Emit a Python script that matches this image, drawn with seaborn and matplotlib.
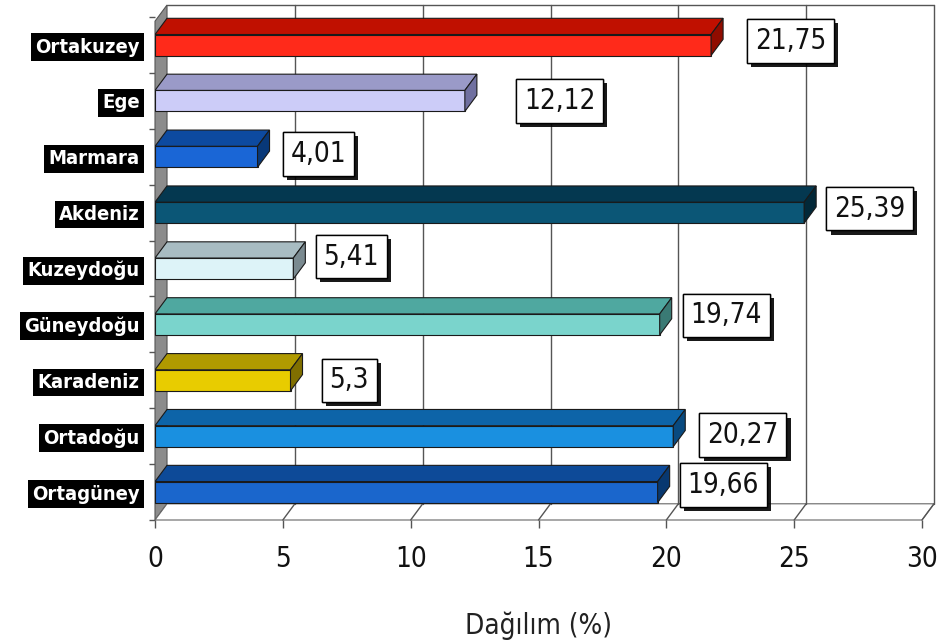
import matplotlib
matplotlib.use("Agg")
import matplotlib.pyplot as plt
import matplotlib.patheffects as pe
from matplotlib.patches import Polygon, Rectangle
from matplotlib import font_manager
import seaborn as sns
import numpy as np

# data
regions = ['Ortakuzey', 'Ege', 'Marmara', 'Akdeniz', 'Kuzeydoğu',
           'Güneydoğu', 'Karadeniz', 'Ortadoğu', 'Ortagüney']
values = [21.75, 12.12, 4.01, 25.39, 5.41, 19.74, 5.3, 20.27, 19.66]
value_labels = ['21,75', '12,12', '4,01', '25,39', '5,41', '19,74', '5,3', '20,27', '19,66']
xticks = [0, 5, 10, 15, 20, 25, 30]

# styling
front_colors = ['#ff2a1a', '#ccccf8', '#1a66d6', '#0b5676', '#ddf3f8',
                '#7ad4cc', '#e8cc00', '#1a90e0', '#1a66cc']
top_colors = ['#c01000', '#9a9ac8', '#0d4aa0', '#043850', '#a8bcc2',
              '#4fa8a0', '#b09a00', '#0d64a8', '#0d4a98']
side_colors = ['#900c00', '#7070a0', '#083878', '#022838', '#7a8a90',
               '#3a7a74', '#806f00', '#084a80', '#083870']
# pixel offsets of the value boxes (gap after bar end, vertical shift)
label_dx = [36, 51, 25, 22, 22, 23, 31, 26, 22]
label_dy = [4, 0, 3, 4, 12, 9, 0, 1, 7]

sns.set_style("white")
names = {f.name for f in font_manager.fontManager.ttflist}
narrow = [n for n in ['Liberation Sans Narrow', 'DejaVu Sans Condensed'] if n in names]
plt.rcParams['font.family'] = narrow + ['DejaVu Sans']
plt.rcParams['font.stretch'] = 'condensed'

W, H = 939, 644
fig = plt.figure(figsize=(W / 100, H / 100), dpi=100)
ax = fig.add_axes([155 / W, 1 - 520 / H, (922 - 155) / W, (520 - 5) / H])

sns.barplot(x=values, y=regions, hue=regions, palette=front_colors,
            saturation=1, orient='h', width=0.376, edgecolor='#1a1a1a',
            linewidth=0.8, legend=False, ax=ax, zorder=3)

ytop = -0.716
ybot = 8.5
ax.set_xlim(0, 30)
ax.set_ylim(ybot, ytop)

dx = 0.47   # depth in x units
dy = 0.29   # depth in row units

# left wall
ax.add_patch(Polygon([(0, ybot), (dx, ybot - dy), (dx, ytop), (0, ytop + dy)],
                     closed=True, fc='#8c8c8c', ec='#555555', lw=0.8,
                     zorder=1, clip_on=False))
# floor
ax.add_patch(Polygon([(0, ybot), (30, ybot), (30 + dx, ybot - dy), (dx, ybot - dy)],
                     closed=True, fc='white', ec='#666666', lw=0.8,
                     zorder=1, clip_on=False))
# back wall gridlines + floor slants
for v in xticks[1:]:
    ax.plot([v + dx, v + dx], [ytop, ybot - dy], color='#555555', lw=1,
            zorder=1, clip_on=False)
    ax.plot([v, v + dx], [ybot, ybot - dy], color='#555555', lw=1,
            zorder=1, clip_on=False)
ax.plot([dx, 30 + dx], [ytop, ytop], color='#555555', lw=1, zorder=1, clip_on=False)

# 3d faces of the bars
bars = [p for p in ax.patches if isinstance(p, Rectangle) and p.get_height() < 0.5]
for p in bars:
    y = p.get_y()
    h = p.get_height()
    w = p.get_width()
    i = int(round(y + h / 2))
    if w == 0 or i < 0 or i >= len(regions):
        continue
    ax.add_patch(Polygon([(0, y), (w, y), (w + dx, y - dy), (dx, y - dy)],
                         closed=True, fc=top_colors[i], ec='#1a1a1a', lw=0.8, zorder=3))
    ax.add_patch(Polygon([(w, y), (w + dx, y - dy), (w + dx, y + h - dy), (w, y + h)],
                         closed=True, fc=side_colors[i], ec='#1a1a1a', lw=0.8, zorder=3))

# value boxes
for i, (v, t) in enumerate(zip(values, value_labels)):
    txt = ax.annotate(t, xy=(v, i), xytext=(label_dx[i] + 8, label_dy[i]),
                      textcoords='offset pixels', ha='left', va='center',
                      fontsize=20, color='#111111', zorder=5,
                      bbox=dict(boxstyle='square,pad=0.28', fc='white',
                                ec='black', lw=1))
    txt.get_bbox_patch().set_path_effects(
        [pe.withSimplePatchShadow(offset=(3, -3), shadow_rgbFace='black', alpha=0.9),
         pe.Normal()])

for s in ax.spines.values():
    s.set_visible(False)

ax.set_xticks(xticks)
ax.set_xticklabels([str(t) for t in xticks], fontsize=20, color='#111111')
ax.tick_params(axis='x', length=6, width=1, color='#555555', pad=12, bottom=True)
ax.set_yticks(range(len(regions)))
ax.set_yticklabels(regions, fontsize=14.5, fontweight='bold', color='white')
ax.tick_params(axis='y', length=0, pad=11)
ax.set_yticks([k - 0.5 for k in range(len(regions) + 1)], minor=True)
ax.tick_params(axis='y', which='minor', length=4, width=1, color='#555555', left=True)
for lbl in ax.get_yticklabels():
    lbl.set_bbox(dict(facecolor='black', edgecolor='none', pad=3))

ax.set_xlabel('Dağılım (%)', fontsize=20, labelpad=28, color='#222222')
ax.set_ylabel('')

fig.savefig('out.png', dpi=100, facecolor='white')
